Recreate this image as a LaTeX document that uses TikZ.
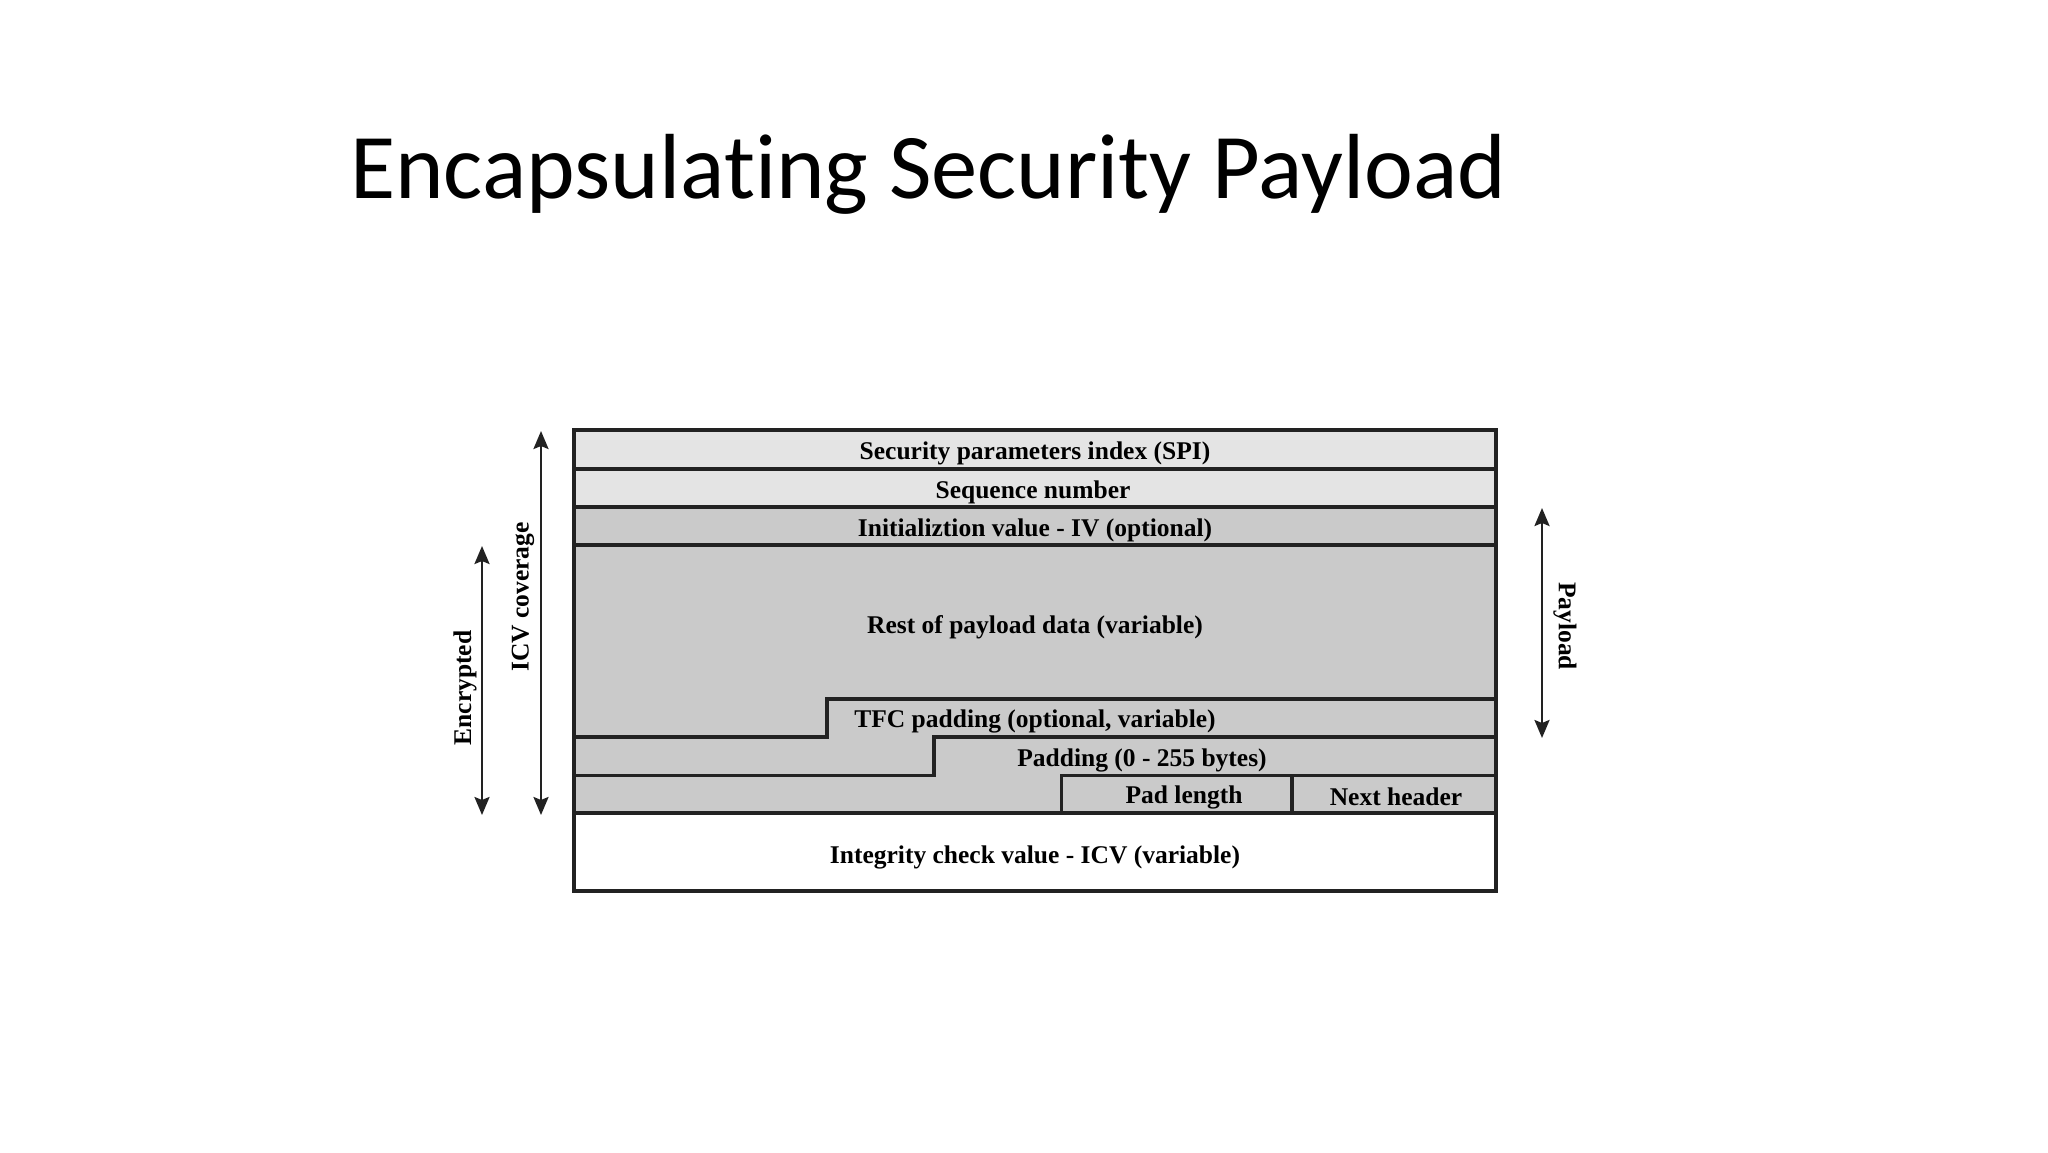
\documentclass[tikz,border=0pt]{standalone}
\usepackage{fontspec}
\setmainfont{Liberation Serif}
\newfontfamily\titlefont[Ligatures={NoCommon}]{Carlito}
\usetikzlibrary{arrows.meta}
\definecolor{lightrow}{HTML}{E4E4E4}
\definecolor{darkrow}{HTML}{CACACA}
\definecolor{edge}{HTML}{222222}
\tikzset{
  cell/.style={font=\fontsize{25.5}{28}\selectfont\bfseries, text=black, inner sep=0pt},
  sidelabel/.style={font=\fontsize{25.5}{28}\selectfont\bfseries, text=black, inner sep=0pt},
  frame/.style={draw=edge, line width=3.5pt, line join=miter},
  span/.style={draw=edge, line width=2.5pt, {Stealth[length=18pt,width=15pt,inset=3pt]}-{Stealth[length=18pt,width=15pt,inset=3pt]}},
}
\begin{document}
\begin{tikzpicture}[x=1pt,y=-1pt]
\useasboundingbox (0,0) rectangle (2048,1152);
% title
\node[anchor=base west, inner sep=0pt, font=\titlefont\fontsize{92.5}{100}\selectfont] (title) at (350,198) {Encapsulating Security Payload};
% fills
\fill[lightrow] (574,430) rectangle (1496,507);
\fill[darkrow] (574,507) rectangle (1496,813);
\fill[white] (574,813) rectangle (1496,891);
% lines
\draw[frame] (574,469) -- (1496,469);
\draw[frame] (574,507) -- (1496,507);
\draw[frame] (574,545) -- (1496,545);
\draw[frame] (1496,699) -- (827,699) -- (827,737) -- (574,737);
\draw[frame] (1496,737) -- (934,737) -- (934,775.5) -- (574,775.5);
\draw[frame] (1496,775.5) -- (1061.5,775.5) -- (1061.5,813);
\draw[frame] (1292,775.5) -- (1292,813);
\draw[frame] (574,813) -- (1496,813);
\draw[frame] (574,430) rectangle (1496,891);
% texts
\node[cell] (spi) at (1035,453) {Security parameters index (SPI)};
\node[cell] (seq) at (1033,492) {Sequence number};
\node[cell] (iv) at (1035,530) {Initializtion value - IV (optional)};
\node[cell] (rest) at (1035,627) {Rest of payload data (variable)};
\node[cell] (tfc) at (1035,721) {TFC padding (optional, variable)};
\node[cell] (pad) at (1142,760) {Padding (0 - 255 bytes)};
\node[cell] (padlen) at (1184,797) {Pad length};
\node[cell] (next) at (1396,797) {Next header};
\node[cell] (icv) at (1035,857) {Integrity check value - ICV (variable)};
% side arrows
\coordinate (encT) at (482,546);
\coordinate (encB) at (482,815);
\coordinate (icvT) at (541,431);
\coordinate (icvB) at (541,815);
\coordinate (payT) at (1542,508);
\coordinate (payB) at (1542,738);
\draw[span] (encB) -- (encT);
\draw[span] (icvB) -- (icvT);
\draw[span] (payB) -- (payT);
\node[sidelabel, rotate=90] (enclbl) at (465,688) {Encrypted};
\node[sidelabel, rotate=90] (icvlbl) at (523,597) {ICV coverage};
\node[sidelabel, rotate=-90] (paylbl) at (1565,626) {Payload};
\end{tikzpicture}
\end{document}
